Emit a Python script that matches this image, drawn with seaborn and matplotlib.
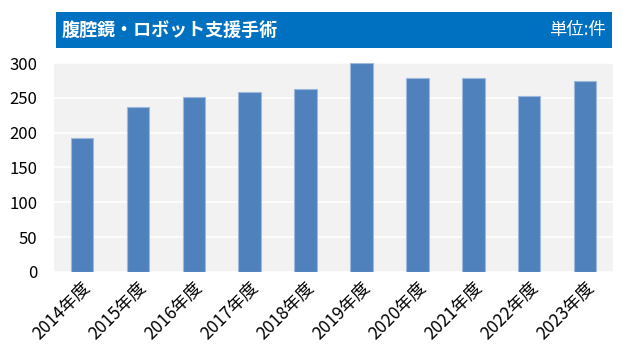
import pandas as pd
import seaborn as sns
import matplotlib.pyplot as plt
from matplotlib.patches import Rectangle

# Chart data
years = ["2014年度", "2015年度", "2016年度", "2017年度", "2018年度",
         "2019年度", "2020年度", "2021年度", "2022年度", "2023年度"]
counts = [192, 237, 251, 258, 263, 300, 279, 279, 253, 274]
y_ticks = [0, 50, 100, 150, 200, 250, 300]
title = "腹腔鏡・ロボット支援手術"
unit = "単位:件"

df = pd.DataFrame({"year": years, "count": counts})

sns.set_theme(style="white")
plt.rcParams['font.family'] = ['Noto Sans CJK JP', 'DejaVu Sans']

fig = plt.figure(figsize=(6.27, 3.54), dpi=100)
ax = fig.add_axes([0.086, 0.232, 0.892, 0.59])

# Bars
sns.barplot(data=df, x="year", y="count", color="#4F81BD", saturation=1,
            width=0.4, edgecolor="#9DB9DD", linewidth=0.8, ax=ax, zorder=3)

ax.set_facecolor("#F2F2F2")
ax.set_ylim(0, 300)
ax.set_yticks(y_ticks)
ax.yaxis.grid(True, color="white", linewidth=1.2, zorder=0)
ax.set_axisbelow(True)
for s in ax.spines.values():
    s.set_visible(False)
ax.set_xlabel("")
ax.set_ylabel("")
ax.tick_params(axis="y", labelsize=12, pad=12, length=0, labelcolor="black")
ax.tick_params(axis="x", labelsize=12.5, length=0, pad=5, labelcolor="black")
plt.setp(ax.get_xticklabels(), rotation=45, ha="right", rotation_mode="anchor")

# Title banner
fig.patches.append(Rectangle((0.089, 0.865), 0.887, 0.102, transform=fig.transFigure,
                             facecolor="#0070C0", edgecolor="none"))
fig.text(0.099, 0.914, title, color="white", fontsize=13, fontweight="bold",
         va="center", ha="left")
fig.text(0.967, 0.914, unit, color="white", fontsize=12.5, va="center", ha="right")

fig.savefig("out.png", dpi=100)
